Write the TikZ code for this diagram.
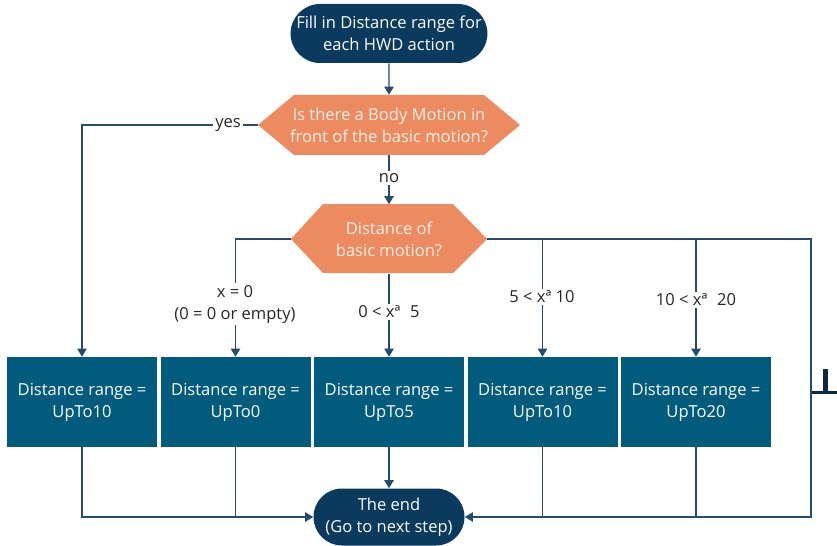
\documentclass[tikz,border=0pt]{standalone}
\usepackage{fontspec}
\setmainfont{Open Sans}
\usetikzlibrary{arrows.meta,shapes.misc}
\definecolor{navy}{RGB}{10,58,94}
\definecolor{boxc}{RGB}{0,91,125}
\definecolor{orng}{RGB}{236,138,96}
\definecolor{linec}{RGB}{36,76,108}
\definecolor{decText}{RGB}{253,240,232}
\definecolor{markc}{RGB}{14,40,66}
\begin{document}
\begin{tikzpicture}[x=0.75pt,y=-0.75pt,
  every node/.style={font=\fontsize{12.4}{16.5}\selectfont, align=center},
  term/.style={rounded rectangle, fill=navy, text=white, inner sep=0pt},
  decnode/.style={rectangle, inner sep=0pt, text=decText},
  rangebox/.style={rectangle, fill=boxc, text=white, minimum width=112.5pt, minimum height=67.5pt, inner sep=0pt},
  conn/.style={draw=linec, line width=0.8pt, -{Triangle[width=7pt,length=6pt]}, color=linec},
  plain/.style={draw=linec, line width=0.8pt},
  lbl/.style={fill=white, inner sep=1.5pt, text=black!85}]
\useasboundingbox (0,0) rectangle (837,545);

% start
\node[term, minimum width=147pt, minimum height=44.25pt] (start) at (389,33.5) {Fill in Distance range for\\each HWD action};

% decision 1
\fill[orng] (258,125) -- (294,95) -- (484,95) -- (520,125) -- (484,155) -- (294,155) -- cycle;
\node[decnode, minimum width=196.5pt, minimum height=45pt] (d1) at (389,125) {Is there a Body Motion in\\front of the basic motion?};

% decision 2
\fill[orng] (291,239) -- (323,204) -- (453,204) -- (487,239) -- (453,273) -- (323,273) -- cycle;
\node[decnode, minimum width=147pt, minimum height=51.75pt] (d2) at (389,239) {Distance of\\basic motion?};

% boxes
\node[rangebox] (b1) at (82,402) {Distance range =\\UpTo10};
\node[rangebox] (b2) at (235.5,402) {Distance range =\\UpTo0};
\node[rangebox] (b3) at (389,402) {Distance range =\\UpTo5};
\node[rangebox] (b4) at (542.5,402) {Distance range =\\UpTo10};
\node[rangebox] (b5) at (696,402) {Distance range =\\UpTo20};

% end
\node[term, minimum width=113.25pt, minimum height=42.75pt] (end) at (389,517) {The end\\(Go to next step)};

\coordinate (rc) at (811,517);

% connectors
\draw[conn] (start) -- (d1);
\draw[conn] (d1.west) -| (b1.north);
\node[lbl] (lyes) at (228,125) {yes};
\draw[conn] (d1.south) -- (d2.north);
\node[lbl] (lno) at (389,178) {no};

\draw[conn] (d2.west) -| (b2.north);
\node[lbl] (l0) at (235,304) {x = 0\\(0 = 0 or empty)};
\draw[conn] (d2.south) -- (b3.north);
\node[lbl] (l5) at (389,312) {0 < xª\,\, 5};
\draw[conn] (d2.east) -| (b4.north);
\node[lbl] (l10) at (542,297) {5 < xª 10};
\draw[conn] (d2.east) -| (b5.north);
\node[lbl] (l20) at (696,300) {10 < xª\,\, 20};
\draw[conn] (d2.east) -| (rc) -- (end.east);

\draw[conn] (b1.south) |- (end.west);
\draw[plain] (b2.south) -- (b2.south |- end.west);
\draw[conn] (b3.south) -- (end.north);
\draw[plain] (b4.south) -- (b4.south |- end.east);
\draw[plain] (b5.south) -- (b5.south |- end.east);

% stray mark at right edge
\fill[markc] (812,390.5) rectangle (837,394);
\fill[markc] (822.5,369) rectangle (827.5,392);
\end{tikzpicture}
\end{document}
